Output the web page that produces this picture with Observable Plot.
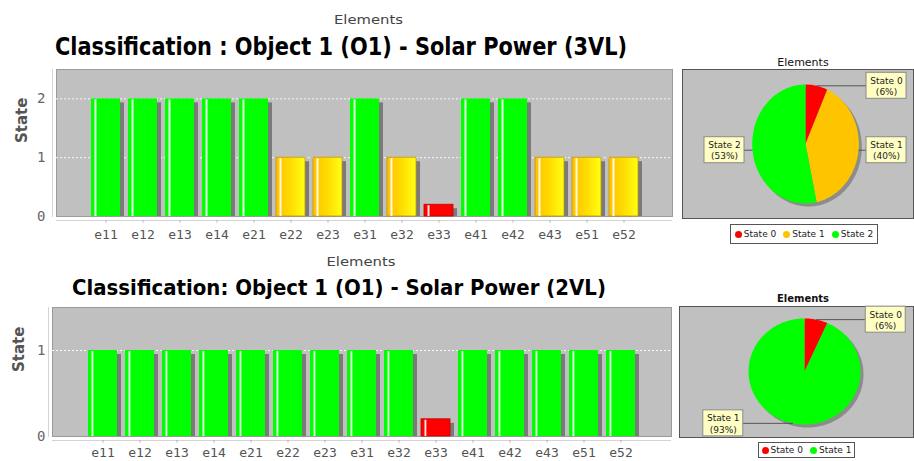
<!DOCTYPE html>
<html><head><meta charset="utf-8">
<script src="https://cdn.jsdelivr.net/npm/d3@7"></script>
<script src="https://cdn.jsdelivr.net/npm/@observablehq/plot@0.6"></script>
<style>
html,body{margin:0;padding:0;background:#fff}
#root{position:relative;width:914px;height:461px;overflow:hidden;background:#fff;font-family:"DejaVu Sans",sans-serif}
#root svg{position:absolute}
.legend{position:absolute;border:1px solid #555;background:#fff;font:9px "DejaVu Sans",sans-serif;color:#222;display:flex;align-items:center;justify-content:center;gap:7px;box-sizing:border-box;white-space:nowrap}
.legend .dot{display:inline-block;width:7px;height:7px;border-radius:50%;margin-right:2px;vertical-align:-1px}
</style></head><body>
<div id="root"></div>
<script>
// ---------- data ----------
const elements = ["e11","e12","e13","e14","e21","e22","e23","e31","e32","e33","e41","e42","e43","e51","e52"];
const states3VL = [2,2,2,2,2,1,1,2,1,0,2,2,1,1,1];
const heights3VL = [2,2,2,2,2,1,1,2,1,0.2,2,2,1,1,1];
const states2VL = [1,1,1,1,1,1,1,1,1,0,1,1,1,1,1];
const heights2VL = [1,1,1,1,1,1,1,1,1,0.2,1,1,1,1,1];
const ticks3VL = [0,1,2];
const ticks2VL = [0,1];
const pieLabels3VL = ["State 0","State 1","State 2"];
const pieCounts3VL = [1,6,8];
const piePercents3VL = ["6%","40%","53%"];
const pieLabels2VL = ["State 0","State 1"];
const pieCounts2VL = [1,14];
const piePercents2VL = ["6%","93%"];
const titles = {
  top: "Classification : Object 1 (O1) - Solar Power (3VL)",
  bottom: "Classification: Object 1 (O1) - Solar Power (2VL)",
  axis: "Elements",
  yLabel: "State"
};
const pieColors3 = ["#ff0000","#ffc400","#00ff00"];
const pieColors2 = ["#ff0000","#00ff00"];

const root = document.getElementById("root");
const NS = "http://www.w3.org/2000/svg";

function rowsOf(states, heights){
  return elements.map((e,i)=>({element:e, state:states[i], height:heights[i]}));
}

function defsMark(){
  return () => {
    const d = document.createElementNS(NS, "defs");
    d.innerHTML = '<linearGradient id="yellowGrad" x1="0" y1="0" x2="1" y2="0">' +
      '<stop offset="0" stop-color="#ffc000"/><stop offset="0.5" stop-color="#ffdc00"/><stop offset="1" stop-color="#ffff14"/></linearGradient>';
    return d;
  };
}

function barChart(cfg){
  const {rows, left, top, width, height, mt, mb, ml, mr, yMax, yTicks, fills, labelDx, tickPad} = cfg;
  const pi = 0.226, po = 0.833, n = elements.length;
  const bw = (width - ml - mr) / (n - pi + 2*po) * (1 - pi);
  const marks = [
    defsMark(),
    Plot.frame({fill:"#c0c0c0", stroke:"#9a9a9a"}),
    Plot.gridY(yTicks.filter(t => t > 0), {stroke:"#ffffff", strokeOpacity:0.9, strokeDasharray:"2,2"}),
    Plot.barY(rows, {x:"element", y:"height", fill:"#7a7a7a", dx:4, dy:4, clip:true})
  ];
  for (const f of fills){
    marks.push(Plot.barY(rows.filter(r => r.state === f.state),
      {x:"element", y:"height", fill:f.fill, stroke:f.stroke, strokeWidth:0.8}));
  }
  marks.push(
    Plot.barY(rows, {x:"element", y:"height", fill:"#ffffff", fillOpacity:0.9, insetLeft:3.5, insetRight:bw-5.5, insetTop:1}),
    Plot.frame({anchor:"left", dx:-4, stroke:"#d4d4d4"}),
    Plot.ruleY([0], {dy:4, stroke:"#d4d4d4"}),
    Plot.axisX({dy:4, tickSize:3, tickPadding:tickPad, color:"#555", strokeOpacity:0.35, label:null}),
    Plot.axisY({ticks:yTicks, tickFormat:d3.format("d"), tickSize:0, tickPadding:ml-45, color:"#666", fontSize:14, label:null}),
    Plot.text([titles.yLabel], {frameAnchor:"left", rotate:-90, dx:labelDx, fontSize:15, fontWeight:"bold", fill:"#555", fontFamily:"DejaVu Sans"})
  );
  const svg = Plot.plot({
    width, height, marginTop:mt, marginBottom:mb, marginLeft:ml, marginRight:mr,
    x:{type:"band", domain:elements, paddingInner:pi, paddingOuter:po, axis:null, label:null},
    y:{domain:[0,yMax], axis:null, label:null},
    style:{background:"transparent", overflow:"visible", fontFamily:"DejaVu Sans Mono", fontSize:"13px"},
    marks
  });
  svg.style.left = left + "px"; svg.style.top = top + "px";
  root.appendChild(svg);
}

function pieChart(cfg){
  const {labels, counts, percents, colors, left, top, width, height, xDomain, yDomain, labelX} = cfg;
  const arcs = d3.pie().sort(null).value(d => d)(counts);
  const slicePts = [];
  arcs.forEach((a,i) => {
    const steps = Math.max(2, Math.ceil((a.endAngle - a.startAngle) / (Math.PI/90)));
    slicePts.push({slice:labels[i], x:0, y:0});
    for (let k = 0; k <= steps; k++){
      const t = a.startAngle + (a.endAngle - a.startAngle) * k / steps;
      slicePts.push({slice:labels[i], x:Math.sin(t), y:Math.cos(t)});
    }
  });
  const shadowPts = d3.range(0, 181).map(k => ({x:Math.sin(k*Math.PI/90), y:Math.cos(k*Math.PI/90)}));
  const lab = arcs.map((a,i) => {
    const mid = (a.startAngle + a.endAngle)/2;
    const side = Math.sin(mid) >= 0 ? 1 : -1;
    return {slice:labels[i], text:labels[i] + "\n(" + percents[i] + ")",
      ex:Math.sin(mid), ey:Math.cos(mid), lx:side*labelX, ly:Math.cos(mid)};
  });
  const svg = Plot.plot({
    width, height, margin:1,
    x:{domain:xDomain, axis:null}, y:{domain:yDomain, axis:null},
    color:{domain:labels, range:colors},
    style:{background:"transparent", overflow:"visible", fontFamily:"DejaVu Sans"},
    marks:[
      Plot.frame({fill:"#c0c0c0", stroke:"#555"}),
      Plot.line(shadowPts, {x:"x", y:"y", fill:"#8c8c8c", stroke:"none", dx:3, dy:3}),
      Plot.line(slicePts, {x:"x", y:"y", z:"slice", fill:"slice", stroke:"none"}),
      Plot.link(lab, {x1:"ex", y1:"ey", x2:"lx", y2:"ly", stroke:"#555", strokeWidth:1}),
      Plot.rect(lab, {x1:"lx", x2:"lx", y1:"ly", y2:"ly", insetLeft:-20, insetRight:-20, insetTop:-13, insetBottom:-13, fill:"#ffffc4", stroke:"#8a8a8a"}),
      Plot.text(lab, {x:"lx", y:"ly", text:"text", fontSize:9, lineHeight:1.25, fill:"#222"})
    ]
  });
  svg.style.left = left + "px"; svg.style.top = top + "px";
  root.appendChild(svg);
}

function legend(labels, colors, left, top, width, height){
  const div = document.createElement("div");
  div.className = "legend";
  Object.assign(div.style, {left:left+"px", top:top+"px", width:width+"px", height:height+"px"});
  labels.forEach((l,i) => {
    const s = document.createElement("span");
    const dot = document.createElement("span");
    dot.className = "dot"; dot.style.background = colors[i];
    s.appendChild(dot); s.appendChild(document.createTextNode(l));
    div.appendChild(s);
  });
  root.appendChild(div);
}

function overlayText(){
  const svg = d3.create("svg").attr("width", 914).attr("height", 461)
    .style("left","0px").style("top","0px").style("pointer-events","none");
  const items = [
    {t:titles.axis, x:368.5, y:23.5, size:12, weight:"normal", fill:"#444", anchor:"middle", len:69},
    {t:titles.top, x:55, y:55, size:24, weight:"bold", fill:"#000", anchor:"start", len:572},
    {t:titles.axis, x:361, y:266, size:12, weight:"normal", fill:"#444", anchor:"middle", len:69},
    {t:titles.bottom, x:72, y:295, size:22, weight:"bold", fill:"#000", anchor:"start", len:534},
    {t:titles.axis, x:803, y:65.5, size:11, weight:"normal", fill:"#111", anchor:"middle", len:null},
    {t:titles.axis, x:803, y:302, size:10, weight:"bold", fill:"#111", anchor:"middle", len:null}
  ];
  for (const it of items){
    const t = svg.append("text").attr("x", it.x).attr("y", it.y).attr("text-anchor", it.anchor)
      .attr("font-family", "DejaVu Sans").attr("font-size", it.size).attr("font-weight", it.weight)
      .attr("fill", it.fill).text(it.t);
    if (it.len) t.attr("textLength", it.len).attr("lengthAdjust", "spacingAndGlyphs");
  }
  root.appendChild(svg.node());
}

overlayText();

barChart({rows:rowsOf(states3VL, heights3VL), left:0, top:60, width:680, height:192,
  mt:9, mb:36, ml:56, mr:8, yMax:2.5, yTicks:ticks3VL, labelDx:-34, tickPad:6,
  fills:[{state:0, fill:"#ff0000", stroke:"#c00000"}, {state:1, fill:"url(#yellowGrad)", stroke:"#c89400"}, {state:2, fill:"#00ff00", stroke:"none"}]});

barChart({rows:rowsOf(states2VL, heights2VL), left:0, top:300, width:680, height:161,
  mt:7, mb:25, ml:52, mr:9, yMax:1.5, yTicks:ticks2VL, labelDx:-33, tickPad:4.5,
  fills:[{state:0, fill:"#ff0000", stroke:"#c00000"}, {state:1, fill:"#00ff00", stroke:"none"}]});

pieChart({labels:pieLabels3VL, counts:pieCounts3VL, percents:piePercents3VL, colors:pieColors3,
  left:681, top:68, width:233, height:151, xDomain:[-2.308, 2.026], yDomain:[-1.252, 1.252], labelX:1.52});

pieChart({labels:pieLabels2VL, counts:pieCounts2VL, percents:piePercents2VL, colors:pieColors2,
  left:678, top:305, width:236, height:133, xDomain:[-2.232, 1.946], yDomain:[-1.245, 1.226], labelX:1.45});

legend(pieLabels3VL, pieColors3, 730, 224, 148, 20);
legend(pieLabels2VL, pieColors2, 758, 442, 97, 16);
</script>
</body></html>
